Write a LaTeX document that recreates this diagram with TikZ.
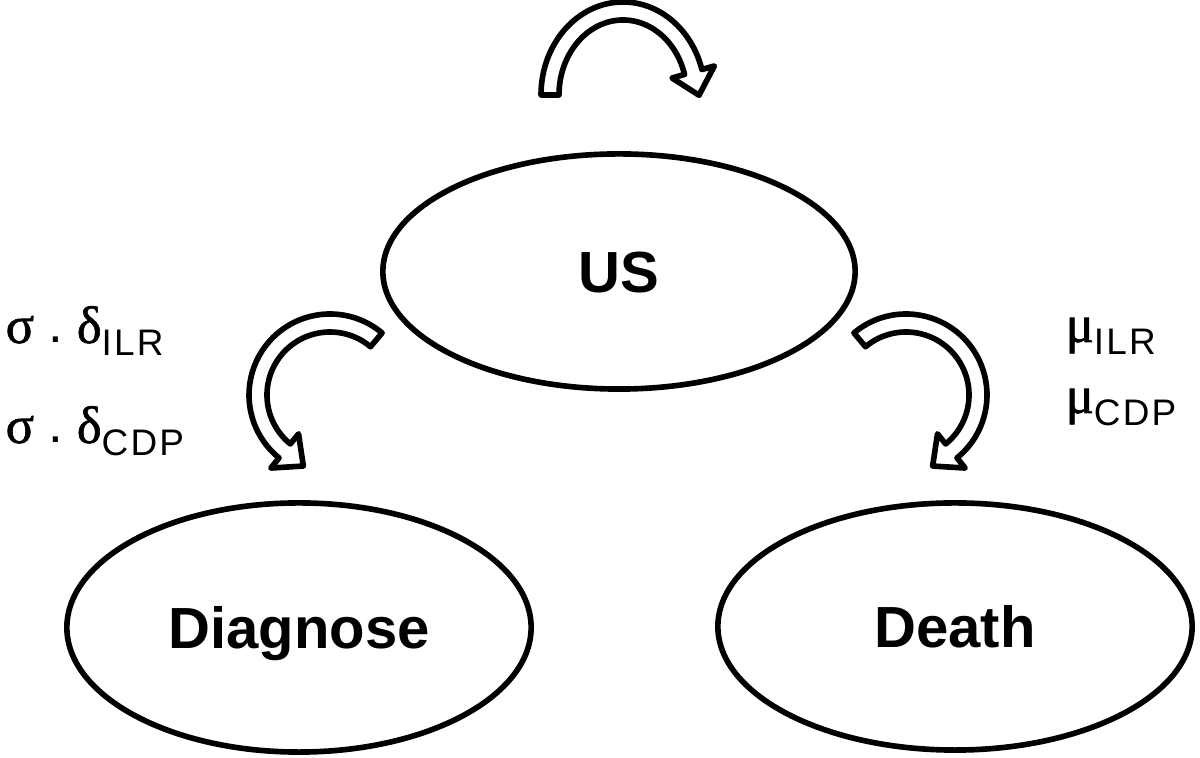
\documentclass[tikz,border=0pt]{standalone}
\usepackage{fontspec}
\setmainfont{Liberation Sans}
\newfontfamily\greekfont[FakeBold=1.2]{Liberation Serif}
\newfontfamily\subfont[LetterSpace=6]{Liberation Sans}
\usetikzlibrary{shapes.geometric}

\tikzset{
  state/.style={draw, ellipse, line width=1.6pt, inner sep=0pt,
    font=\fontsize{16.5}{20}\selectfont\bfseries, text height=11.8pt, text depth=0pt},
  bent/.style={draw, fill=white, line width=1.6pt, line join=round},
  rate/.style={anchor=base west, inner sep=0pt, font=\fontsize{15}{18}\selectfont}
}

% hollow bent arrow: centre, x radius, y radius, tail angle, head angle, tip direction
\newcommand{\bentarrow}[6]{%
  \draw[bent, shift={#1}] (#4:{#2+9} and {#3+9})
    arc[start angle=#4, end angle=#5, x radius=#2+9, y radius=#3+9]
    -- (#5:{#2+22} and {#3+22}) -- ([shift={(#6:24)}]#5:#2 and #3)
    -- (#5:{#2-22} and {#3-22}) -- (#5:{#2-9} and {#3-9})
    arc[start angle=#5, end angle=#4, x radius=#2-9, y radius=#3-9] -- cycle;}
\newcommand{\ratesub}[1]{\raisebox{-0.13cm}{\fontsize{10.5}{12}\subfont #1}}

\begin{document}
\begin{tikzpicture}[x=0.01cm, y=0.01cm]
  \useasboundingbox (0,0) rectangle (1200,758);

  \node[state, minimum width=4.72cm, minimum height=2.35cm] (us) at (619,486.5) {US};
  \node[state, minimum width=4.64cm, minimum height=2.49cm] (diag) at (299,130.5) {Diagnose};
  \node[state, minimum width=4.74cm, minimum height=2.47cm] (death) at (955,131.5) {Death};

  \bentarrow{(623,663)}{73}{84}{180}{15.9}{-76}
  \bentarrow{(330,363)}{72}{72}{50}{231}{321}
  \bentarrow{(906,363)}{72}{72}{130}{-51}{-141}

  \node[rate] (sigmaILR) at (5,415) {{\greekfont σ}\hspace{0.14cm}.\hspace{0.14cm}{\greekfont δ}\ratesub{ILR}};
  \node[rate] (sigmaCDP) at (5,315) {{\greekfont σ}\hspace{0.14cm}.\hspace{0.14cm}{\greekfont δ}\ratesub{CDP}};
  \node[rate] (muILR) at (1065,416) {{\greekfont μ}\ratesub{ILR}};
  \node[rate] (muCDP) at (1065,345) {{\greekfont μ}\ratesub{CDP}};
\end{tikzpicture}
\end{document}
